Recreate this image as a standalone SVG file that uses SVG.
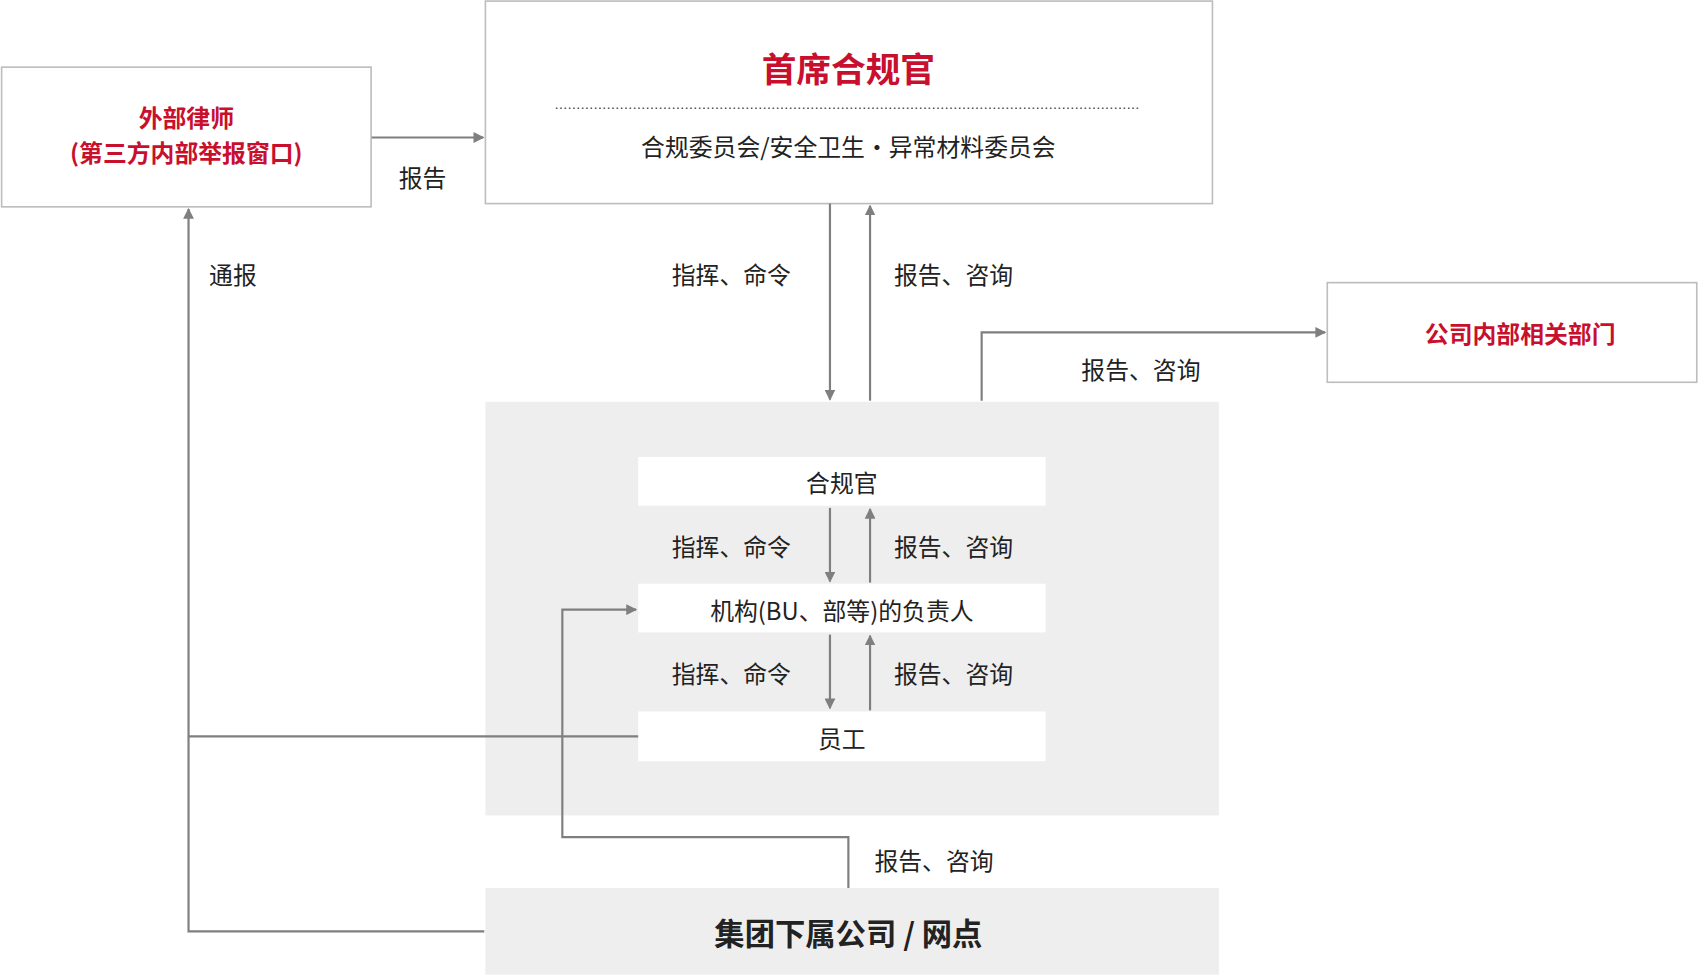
<svg xmlns="http://www.w3.org/2000/svg" width="1699" height="980" viewBox="0 0 1699 980">
<defs>
<marker id="ah" markerWidth="10" markerHeight="10" refX="9" refY="5" orient="auto" markerUnits="userSpaceOnUse"><path d="M0,0 L10,5 L0,10 z" fill="#7f7f7f"/></marker>
<style>
text{font-family:"Noto Sans CJK SC","Noto Sans",sans-serif;text-anchor:middle;dominant-baseline:central;fill:#222}
.red{fill:#c8102e;font-weight:bold}
.box{fill:#fff;stroke:#bdbdbd;stroke-width:1.5}
.line{fill:none;stroke:#7f7f7f;stroke-width:2}
.lbl{font-size:22px}
</style>
</defs>
<rect width="1699" height="980" fill="#fff"/>
<g transform="scale(1.0835 1.0829)">
<g id="gray-area"><rect x="448" y="371" width="677" height="382" fill="#eeeeee"/></g>
<g id="lawyer"><rect class="box" x="1.5" y="62" width="341" height="129"/>
<text class="red" x="172" y="108" font-size="22">外部律师</text>
<text class="red" x="172" y="140" font-size="22">(第三方内部举报窗口)</text></g>
<g id="cco"><rect class="box" x="448" y="1" width="671" height="187"/>
<text class="red" x="783" y="62" font-size="32">首席合规官</text>
<line x1="513" y1="100" x2="1053" y2="100" stroke="#555" stroke-width="1.3" stroke-dasharray="1.5 2.5"/>
<text x="783" y="134" font-size="22">合规委员会/安全卫生·异常材料委员会</text></g>
<g id="dept"><rect class="box" x="1225" y="261" width="341" height="92"/>
<text class="red" x="1403" y="307" font-size="22">公司内部相关部门</text></g>
<g id="officer"><rect x="589" y="422" width="376" height="45" fill="#fff"/><text x="777" y="445" font-size="22">合规官</text></g>
<g id="head"><rect x="589" y="539" width="376" height="45" fill="#fff"/><text x="777" y="563" font-size="22">机构(BU、部等)的负责人</text></g>
<g id="staff"><rect x="589" y="657" width="376" height="46" fill="#fff"/><text x="777" y="681" font-size="22">员工</text></g>
<g id="group"><rect x="448" y="820" width="677" height="80" fill="#eeeeee"/><text x="783" y="861" font-size="28" font-weight="bold">集团下属公司 / 网点</text></g>
<g id="connectors">
<path class="line" d="M343,127 H446" marker-end="url(#ah)"/>
<path class="line" d="M766,188 V369" marker-end="url(#ah)"/>
<path class="line" d="M803,370 V190" marker-end="url(#ah)"/>
<path class="line" d="M906,370 V307 H1223" marker-end="url(#ah)"/>
<path class="line" d="M766,469 V537" marker-end="url(#ah)"/>
<path class="line" d="M803,538 V470" marker-end="url(#ah)"/>
<path class="line" d="M766,586 V654" marker-end="url(#ah)"/>
<path class="line" d="M803,656 V587" marker-end="url(#ah)"/>
<path class="line" d="M589,680 H174"/>
<path class="line" d="M447,860 H174 V193" marker-end="url(#ah)"/>
<path class="line" d="M783,820 V773 H519 V563 H587" marker-end="url(#ah)"/>
</g>
<g id="labels">
<text class="lbl" x="390" y="163">报告</text>
<text class="lbl" x="215" y="253">通报</text>
<text class="lbl" x="675" y="253">指挥、命令</text>
<text class="lbl" x="880" y="253">报告、咨询</text>
<text class="lbl" x="1053" y="340">报告、咨询</text>
<text class="lbl" x="675" y="504">指挥、命令</text>
<text class="lbl" x="880" y="504">报告、咨询</text>
<text class="lbl" x="675" y="621">指挥、命令</text>
<text class="lbl" x="880" y="621">报告、咨询</text>
<text class="lbl" x="862" y="794">报告、咨询</text>
</g>
</g>
</svg>
